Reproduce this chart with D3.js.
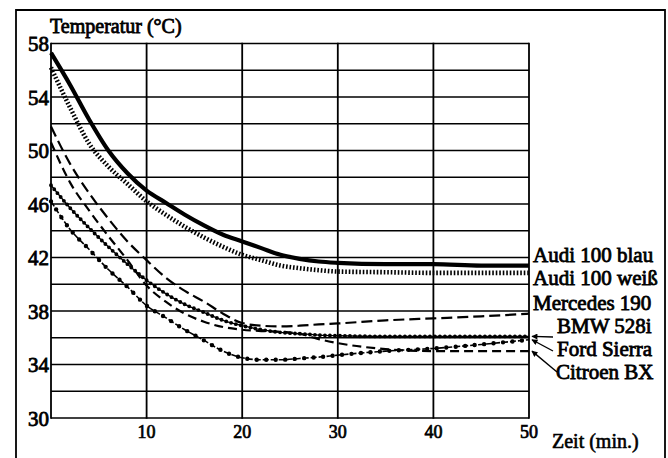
<!DOCTYPE html>
<html><head><meta charset="utf-8">
<script src="https://cdn.jsdelivr.net/npm/d3@7"></script>
<style>
html,body{margin:0;padding:0;background:#fff;}
svg text{font-family:"Liberation Serif","Times New Roman",serif;fill:#000;}
</style></head>
<body><svg id="c" width="668" height="458"></svg>
<script>
// ---- data ----
const times      = [0, 2, 4, 6, 8, 10, 12, 14, 16, 18, 20, 22, 24, 26, 28, 30, 35, 40, 45, 50];
const audiBlau   = [57.3, 54.9, 52.3, 50.0, 48.3, 47.0, 46.1, 45.2, 44.4, 43.7, 43.2, 42.7, 42.2, 41.9, 41.7, 41.6, 41.5, 41.5, 41.4, 41.4];
const audiWeiss  = [56.2, 53.2, 50.5, 48.8, 47.5, 46.2, 45.2, 44.3, 43.5, 42.8, 42.2, 41.8, 41.4, 41.2, 41.05, 40.95, 40.9, 40.85, 40.85, 40.85];
const mercedes   = [51.8, 49.0, 46.8, 44.9, 43.2, 41.8, 40.5, 39.5, 38.7, 37.8, 37.1, 36.9, 36.85, 36.9, 37.0, 37.07, 37.3, 37.45, 37.6, 37.8];
const bmw        = [47.4, 45.7, 44.2, 42.8, 41.5, 40.3, 39.3, 38.5, 37.9, 37.3, 36.9, 36.6, 36.4, 36.3, 36.2, 36.15, 36.1, 36.1, 36.1, 36.1];
const ford       = [46.2, 44.1, 42.6, 41.1, 39.8, 38.4, 37.5, 36.6, 35.8, 35.0, 34.5, 34.35, 34.35, 34.45, 34.55, 34.7, 35.0, 35.2, 35.5, 35.85];
const citroen    = [50.6, 47.6, 45.5, 43.6, 41.8, 39.9, 38.7, 37.8, 37.2, 36.8, 36.6, 36.5, 36.45, 36.3, 35.9, 35.6, 35.15, 35.0, 35.0, 35.0];
const seriesNames = ["Audi 100 blau", "Audi 100 weiß", "Mercedes 190", "BMW 528i", "Ford Sierra", "Citroen BX"];
const yTickLabels = [30, 34, 38, 42, 46, 50, 54, 58];
const xTickLabels = [10, 20, 30, 40, 50];
const yTitle = "Temperatur (°C)";
const xTitle = "Zeit (min.)";

// ---- layout ----
const svg = d3.select("#c");
const x = d3.scaleLinear().domain([0, 50]).range([51, 529]);
const y = d3.scaleLinear().domain([30, 58]).range([418, 43.5]);

svg.append("rect").attr("width",668).attr("height",458).attr("fill","#fff");

// outer frame (left, top, right)
svg.append("path").attr("d","M16,458 L16,10 L665,10 L665,458")
  .attr("fill","none").attr("stroke","#000").attr("stroke-width",1.8);

// grid
const gridY = d3.range(30, 58.01, 2);
svg.append("g").selectAll("line").data(gridY).join("line")
  .attr("x1", x(0)).attr("x2", x(50))
  .attr("y1", d => y(d)).attr("y2", d => y(d))
  .attr("stroke","#000").attr("stroke-width",1.7);
svg.append("g").selectAll("line").data([0].concat(xTickLabels)).join("line")
  .attr("x1", d => x(d)).attr("x2", d => x(d))
  .attr("y1", y(58)-0.8).attr("y2", y(30)+0.8)
  .attr("stroke","#000").attr("stroke-width",1.8);

// tick labels
svg.append("g").selectAll("text").data(yTickLabels).join("text")
  .attr("x", 49).attr("y", d => y(d)).attr("dy","0.36em")
  .attr("text-anchor","end").attr("font-size",21)
  .attr("stroke","#000").attr("stroke-width",0.8)
  .text(d => d);
svg.append("g").selectAll("text").data(xTickLabels).join("text")
  .attr("x", d => x(d)).attr("y", 438)
  .attr("text-anchor","middle").attr("font-size",18)
  .attr("stroke","#000").attr("stroke-width",0.7)
  .text(d => d);

svg.append("text").attr("x",50).attr("y",33).attr("font-size",20)
  .attr("stroke","#000").attr("stroke-width",0.8).text(yTitle);
svg.append("text").attr("x",552).attr("y",448).attr("font-size",20)
  .attr("stroke","#000").attr("stroke-width",0.6).text(xTitle);

// lines
const line = d3.line().x((d,i) => x(times[i])).y(d => y(d)).curve(d3.curveMonotoneX);
const g = svg.append("g").attr("fill","none").attr("stroke","#000");

// Audi 100 blau: solid thick
g.append("path").attr("d", line(audiBlau)).attr("stroke-width",4.2);
// Audi 100 weiß: comb dotted
g.append("path").attr("d", line(audiWeiss)).attr("stroke-width",4.6).attr("stroke-dasharray","1.6,1.9");
// Mercedes 190: long dashes
g.append("path").attr("d", line(mercedes)).attr("stroke-width",2.2).attr("stroke-dasharray","11,5");
// BMW 528i: beads
g.append("path").attr("d", line(bmw)).attr("stroke-width",1.3);
g.append("path").attr("d", line(bmw)).attr("stroke-width",3.9).attr("stroke-linecap","round").attr("stroke-dasharray","0,5");
// Ford Sierra: dash-dot beads
g.append("path").attr("d", line(ford)).attr("stroke-width",1.6).attr("stroke-dasharray","6,2");
g.append("path").attr("d", line(ford)).attr("stroke-width",4.4).attr("stroke-linecap","round").attr("stroke-dasharray","0,9.5");
// Citroen BX: medium dashes
g.append("path").attr("d", line(citroen)).attr("stroke-width",2.2).attr("stroke-dasharray","9,5");

// legend labels
const allSeries = [audiBlau, audiWeiss, mercedes, bmw, ford, citroen];
const labelX = [533, 533, 533, 557, 557, 556];
const labelY = [262, 285, 310, 333, 356, 379];
svg.append("g").selectAll("text").data(seriesNames).join("text")
  .attr("x", (d,i) => labelX[i]).attr("y", (d,i) => labelY[i])
  .attr("font-size",21).attr("stroke","#000").attr("stroke-width",0.8)
  .text(d => d);

// arrows
const defs = svg.append("defs");
defs.append("marker").attr("id","ah").attr("viewBox","0 0 10 10").attr("refX",9).attr("refY",5)
  .attr("markerWidth",7).attr("markerHeight",6).attr("orient","auto").attr("markerUnits","userSpaceOnUse")
  .append("path").attr("d","M0,0 L10,5 L0,10 z").attr("fill","#000");
const arrows = [
  {from:[553, 337], s:3},
  {from:[553, 351], s:4},
  {from:[557, 372], s:5}
];
arrows.forEach(a => {
  const vals = allSeries[a.s];
  const tx = x(50) + 3, ty = y(vals[vals.length-1]);
  svg.append("line").attr("x1",a.from[0]).attr("y1",a.from[1]).attr("x2",tx).attr("y2",ty)
    .attr("stroke","#000").attr("stroke-width",1.4).attr("marker-end","url(#ah)");
});
</script></body></html>
